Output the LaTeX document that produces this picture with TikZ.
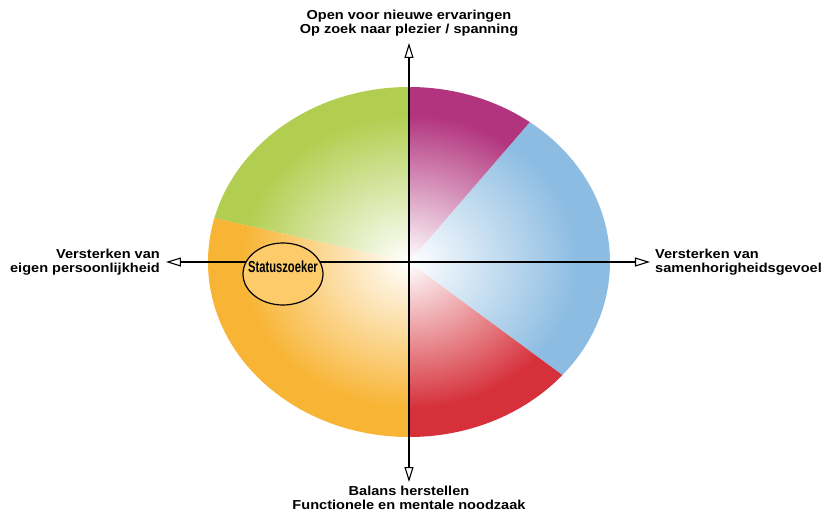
\documentclass[tikz,border=0pt]{standalone}
\usepackage{fontspec}
\setmainfont{Liberation Sans}
\newfontfamily\widefont[FakeStretch=1.12]{Liberation Sans}
\newfontfamily\narrowfont[FakeStretch=0.7]{Liberation Sans}
\usetikzlibrary{shapes.geometric, arrows.meta, positioning}

\definecolor{segmagenta}{RGB}{178,52,126}
\definecolor{segblue}{RGB}{140,188,226}
\definecolor{segred}{RGB}{214,48,58}
\definecolor{segorange}{RGB}{248,180,52}
\definecolor{seggreen}{RGB}{178,206,80}
\definecolor{statusfill}{RGB}{253,203,106}
\colorlet{segcol}{white}
\pgfdeclareradialshading[segcol]{segshade}{\pgfpoint{0bp}{0bp}}%
  {color(0bp)=(white); color(21bp)=(segcol); color(50bp)=(segcol)}

\begin{document}
\begin{tikzpicture}[
    x=1pt, y=1pt,
    lbl/.style={font=\widefont\bfseries\fontsize{13}{14}\selectfont, inner sep=0pt},
    statusbox/.style={ellipse, draw=black, line width=1.2pt, fill=statusfill,
                      minimum width=80pt, minimum height=62pt, inner sep=0pt},
    statuslbl/.style={font=\narrowfont\bfseries\fontsize{16}{16}\selectfont,
                      inner sep=0pt, yshift=7pt},
    axis/.style={line width=2.4pt,
                 -{Triangle[open, length=15pt, width=9pt, line width=1.1pt]}}
]
\useasboundingbox (-409,-250) rectangle (414,262);
\foreach \from/\to/\col in {-36.4/49.2/segblue, 49.2/90/segmagenta,
                           90/167.3/seggreen, 167.3/270/segorange, 270/323.6/segred} {
  \begin{scope}
    \clip (0,0) -- (\from:320) arc[start angle=\from, end angle=\to, radius=320] -- cycle;
    \colorlet{segcol}{\col}
    \shade[shading=segshade] (0,0) ellipse [x radius=201, y radius=175];
  \end{scope}
}
\coordinate (o) at (0,0);
\coordinate (uptip) at (0,219);
\coordinate (downtip) at (0,-220);
\coordinate (lefttip) at (-243,0);
\coordinate (righttip) at (241,0);
\node[lbl, align=center, above=7pt of uptip] (up)
  {Open voor nieuwe ervaringen\\Op zoek naar plezier / spanning};
\node[lbl, align=center, below=3.5pt of downtip] (down)
  {Balans herstellen\\Functionele en mentale noodzaak};
\node[lbl, align=right, left=6pt of lefttip] (left)
  {Versterken van\\eigen persoonlijkheid};
\node[lbl, align=left, right=5pt of righttip] (right)
  {Versterken van\\samenhorigheidsgevoel};
\draw[axis] (o) -- (uptip);
\draw[axis] (o) -- (downtip);
\draw[axis] (o) -- (lefttip);
\draw[axis] (o) -- (righttip);
\node[statusbox, label={[statuslbl]center:Statuszoeker}] (status) at (-126,-12) {};
\end{tikzpicture}
\end{document}
